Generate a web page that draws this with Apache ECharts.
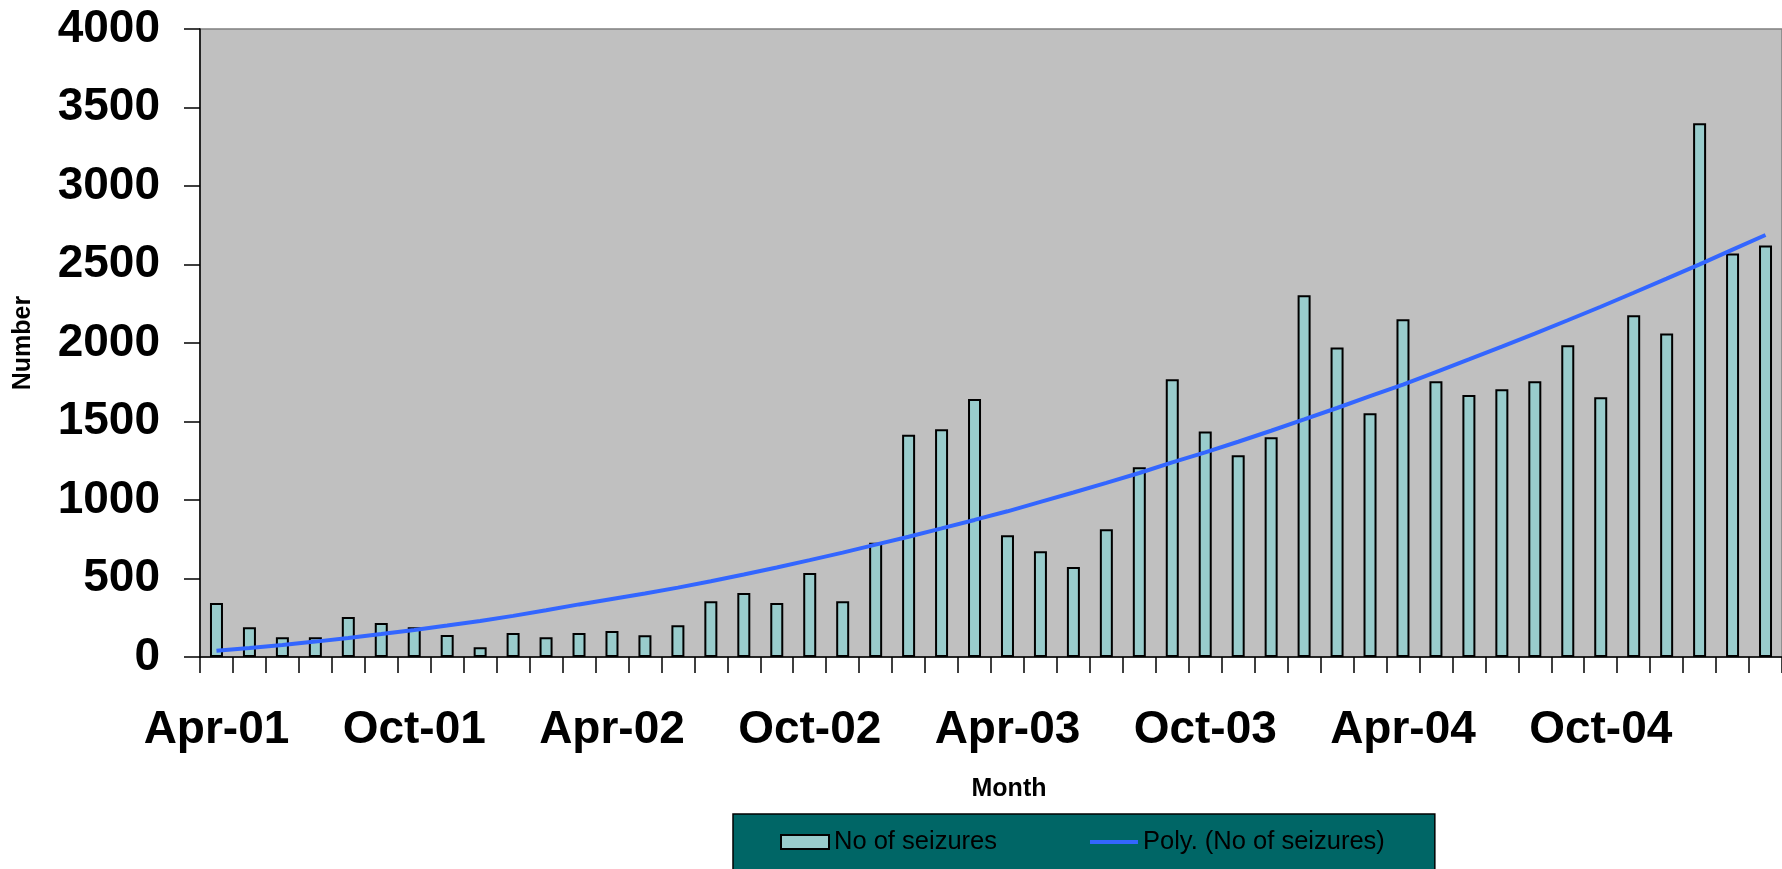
<!DOCTYPE html>
<html>
<head>
<meta charset="utf-8">
<script src="https://cdn.jsdelivr.net/npm/echarts@6/dist/echarts.min.js"></script>
<style>
  html, body { margin: 0; padding: 0; background: #ffffff; }
  #chart { width: 1782px; height: 869px; }
</style>
</head>
<body>
<div id="chart"></div>
<script>
// Categories (months Apr-01 .. Mar-05)
const months = [
  "Apr-01","May-01","Jun-01","Jul-01","Aug-01","Sep-01","Oct-01","Nov-01","Dec-01","Jan-02","Feb-02","Mar-02",
  "Apr-02","May-02","Jun-02","Jul-02","Aug-02","Sep-02","Oct-02","Nov-02","Dec-02","Jan-03","Feb-03","Mar-03",
  "Apr-03","May-03","Jun-03","Jul-03","Aug-03","Sep-03","Oct-03","Nov-03","Dec-03","Jan-04","Feb-04","Mar-04",
  "Apr-04","May-04","Jun-04","Jul-04","Aug-04","Sep-04","Oct-04","Nov-04","Dec-04","Jan-05","Feb-05","Mar-05"
];

// No of seizures (bars)
const seizures = [
  344, 189, 126, 126, 255, 217, 189, 140, 62, 153, 126, 153,
  166, 138, 202, 355, 408, 344, 535, 355, 728, 1416, 1450, 1643,
  775, 673, 573, 813, 1208, 1769, 1437, 1285, 1399, 2304, 1972, 1552,
  2151, 1756, 1668, 1705, 1756, 1985, 1655, 2176, 2061, 3399, 2570, 2621
];

// Poly. (No of seizures) trend line
const trend = [
  40, 58, 77, 98, 121, 146, 172, 200, 229, 262, 298, 335,
  370, 405, 442, 483, 526, 570, 617, 665, 716, 766, 819, 873,
  928, 988, 1048, 1109, 1172, 1240, 1303, 1371, 1441, 1513, 1586, 1661,
  1735, 1815, 1895, 1977, 2060, 2145, 2231, 2320, 2410, 2501, 2595, 2688
];

// Axis settings
const yMin = 0, yMax = 4000, yStep = 500;
const xTitle = "Month";
const yTitle = "Number";
const barName = "No of seizures";
const lineName = "Poly. (No of seizures)";

const FONT = "Liberation Sans, Arial, Helvetica, sans-serif";

const chart = echarts.init(document.getElementById('chart'), null, { renderer: 'canvas' });

chart.setOption({
  animation: false,
  backgroundColor: '#ffffff',
  textStyle: { fontFamily: FONT },
  grid: {
    left: 200, top: 29, right: -4, bottom: 212,
    show: true,
    backgroundColor: '#C0C0C0',
    borderColor: '#808080',
    borderWidth: 1.5
  },
  legend: {
    left: 733, top: 814,
    padding: [15, 50, 40, 47],
    itemGap: 91,
    itemWidth: 48,
    itemHeight: 14,
    backgroundColor: '#006666',
    borderColor: '#000000',
    borderWidth: 1.5,
    textStyle: { color: '#000000', fontSize: 25.5, fontFamily: FONT },
    data: [
      { name: barName, icon: 'rect' },
      { name: lineName, itemStyle: { opacity: 0 }, lineStyle: { width: 4, color: '#3366FF' } }
    ]
  },
  xAxis: {
    type: 'category',
    data: months,
    boundaryGap: true,
    name: xTitle,
    nameLocation: 'middle',
    nameGap: 120,
    nameTextStyle: { fontSize: 25, fontWeight: 'bold', color: '#000', fontFamily: FONT, padding: [0, 0, 0, 36] },
    axisLine: { show: true, lineStyle: { color: '#000', width: 1.5 } },
    axisTick: { show: true, interval: 0, length: 16, inside: false, lineStyle: { color: '#000', width: 1.5 } },
    axisLabel: {
      interval: 5,
      margin: 50,
      fontSize: 46,
      fontWeight: 'bold',
      color: '#000',
      fontFamily: FONT
    },
    splitLine: { show: false }
  },
  yAxis: {
    type: 'value',
    min: yMin, max: yMax, interval: yStep,
    name: yTitle,
    nameLocation: 'middle',
    nameGap: 164,
    nameRotate: 90,
    nameTextStyle: { fontSize: 25, fontWeight: 'bold', color: '#000', fontFamily: FONT },
    axisLine: { show: true, lineStyle: { color: '#000', width: 1.5 } },
    axisTick: { show: true, length: 16, inside: false, lineStyle: { color: '#000', width: 1.5 } },
    axisLabel: {
      margin: 40,
      fontSize: 46,
      fontWeight: 'bold',
      color: '#000',
      fontFamily: FONT,
      formatter: function (v) { return String(v); }
    },
    splitLine: { show: false }
  },
  series: [
    {
      name: barName,
      type: 'bar',
      data: seizures,
      barWidth: 13,
      itemStyle: { color: '#99CCCC', borderColor: '#000000', borderWidth: 2 },
      z: 2
    },
    {
      name: lineName,
      type: 'line',
      data: trend,
      symbol: 'none',
      showSymbol: false,
      smooth: false,
      lineStyle: { color: '#3366FF', width: 4 },
      itemStyle: { color: '#3366FF' },
      z: 3
    }
  ]
});
</script>
</body>
</html>
